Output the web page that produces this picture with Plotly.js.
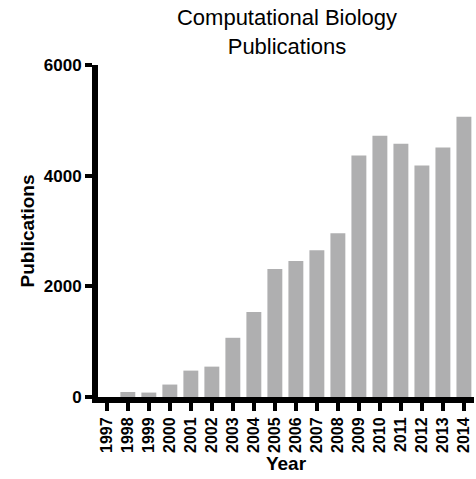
<!DOCTYPE html>
<html>
<head>
<meta charset="utf-8">
<script src="https://cdn.plot.ly/plotly-3.0.1.min.js"></script>
<style>
  html, body { margin: 0; padding: 0; background: #fff; }
  #chart { width: 476px; height: 479px; }
</style>
</head>
<body>
<div id="chart"></div>
<script>
// publications per year
var years = ['1997', '1998', '1999', '2000', '2001', '2002', '2003', '2004', '2005',
             '2006', '2007', '2008', '2009', '2010', '2011', '2012', '2013', '2014'];
var publications = [0, 90, 80, 225, 477, 549, 1070, 1538, 2312,
                    2456, 2654, 2960, 4363, 4723, 4579, 4183, 4507, 5065];
var yTicks = [0, 2000, 4000, 6000];

var font = 'Arial, "Liberation Sans", sans-serif';

var pubs = {
  x: years,
  y: publications,
  type: 'bar',
  width: 0.71,
  marker: { color: '#afafb0' },
  hoverinfo: 'x+y'
};

var layout = {
  width: 476,
  height: 479,
  margin: { l: 98, r: 2, t: 65, b: 82 },
  paper_bgcolor: '#fff',
  plot_bgcolor: '#fff',
  showlegend: false,
  title: {
    text: 'Computational Biology<br>Publications',
    font: { family: font, size: 22, color: '#000' },
    x: 0.603, xanchor: 'center', y: 0.947, yanchor: 'top'
  },
  xaxis: {
    type: 'category',
    range: [-0.42, 17.48],
    showline: true, linecolor: '#000', linewidth: 6,
    ticks: 'outside', ticklen: 8, tickwidth: 4, tickcolor: '#000',
    tickangle: -90,
    tickfont: { family: font, size: 16, color: '#000', weight: 'bold' },
    showgrid: false, zeroline: false,
    title: { text: 'Year', font: { family: font, size: 19, color: '#000', weight: 'bold' }, standoff: 7 }
  },
  yaxis: {
    range: [0, 6000],
    tickvals: yTicks,
    showline: true, linecolor: '#000', linewidth: 6,
    ticks: 'outside', ticklen: 7, tickwidth: 4, tickcolor: '#000',
    tickfont: { family: font, size: 17, color: '#000', weight: 'bold' },
    showgrid: false, zeroline: false,
    title: { text: 'Publications', font: { family: font, size: 19, color: '#000', weight: 'bold' }, standoff: 6 }
  }
};

Plotly.newPlot('chart', [pubs], layout, { displayModeBar: false, staticPlot: true });
</script>
</body>
</html>
